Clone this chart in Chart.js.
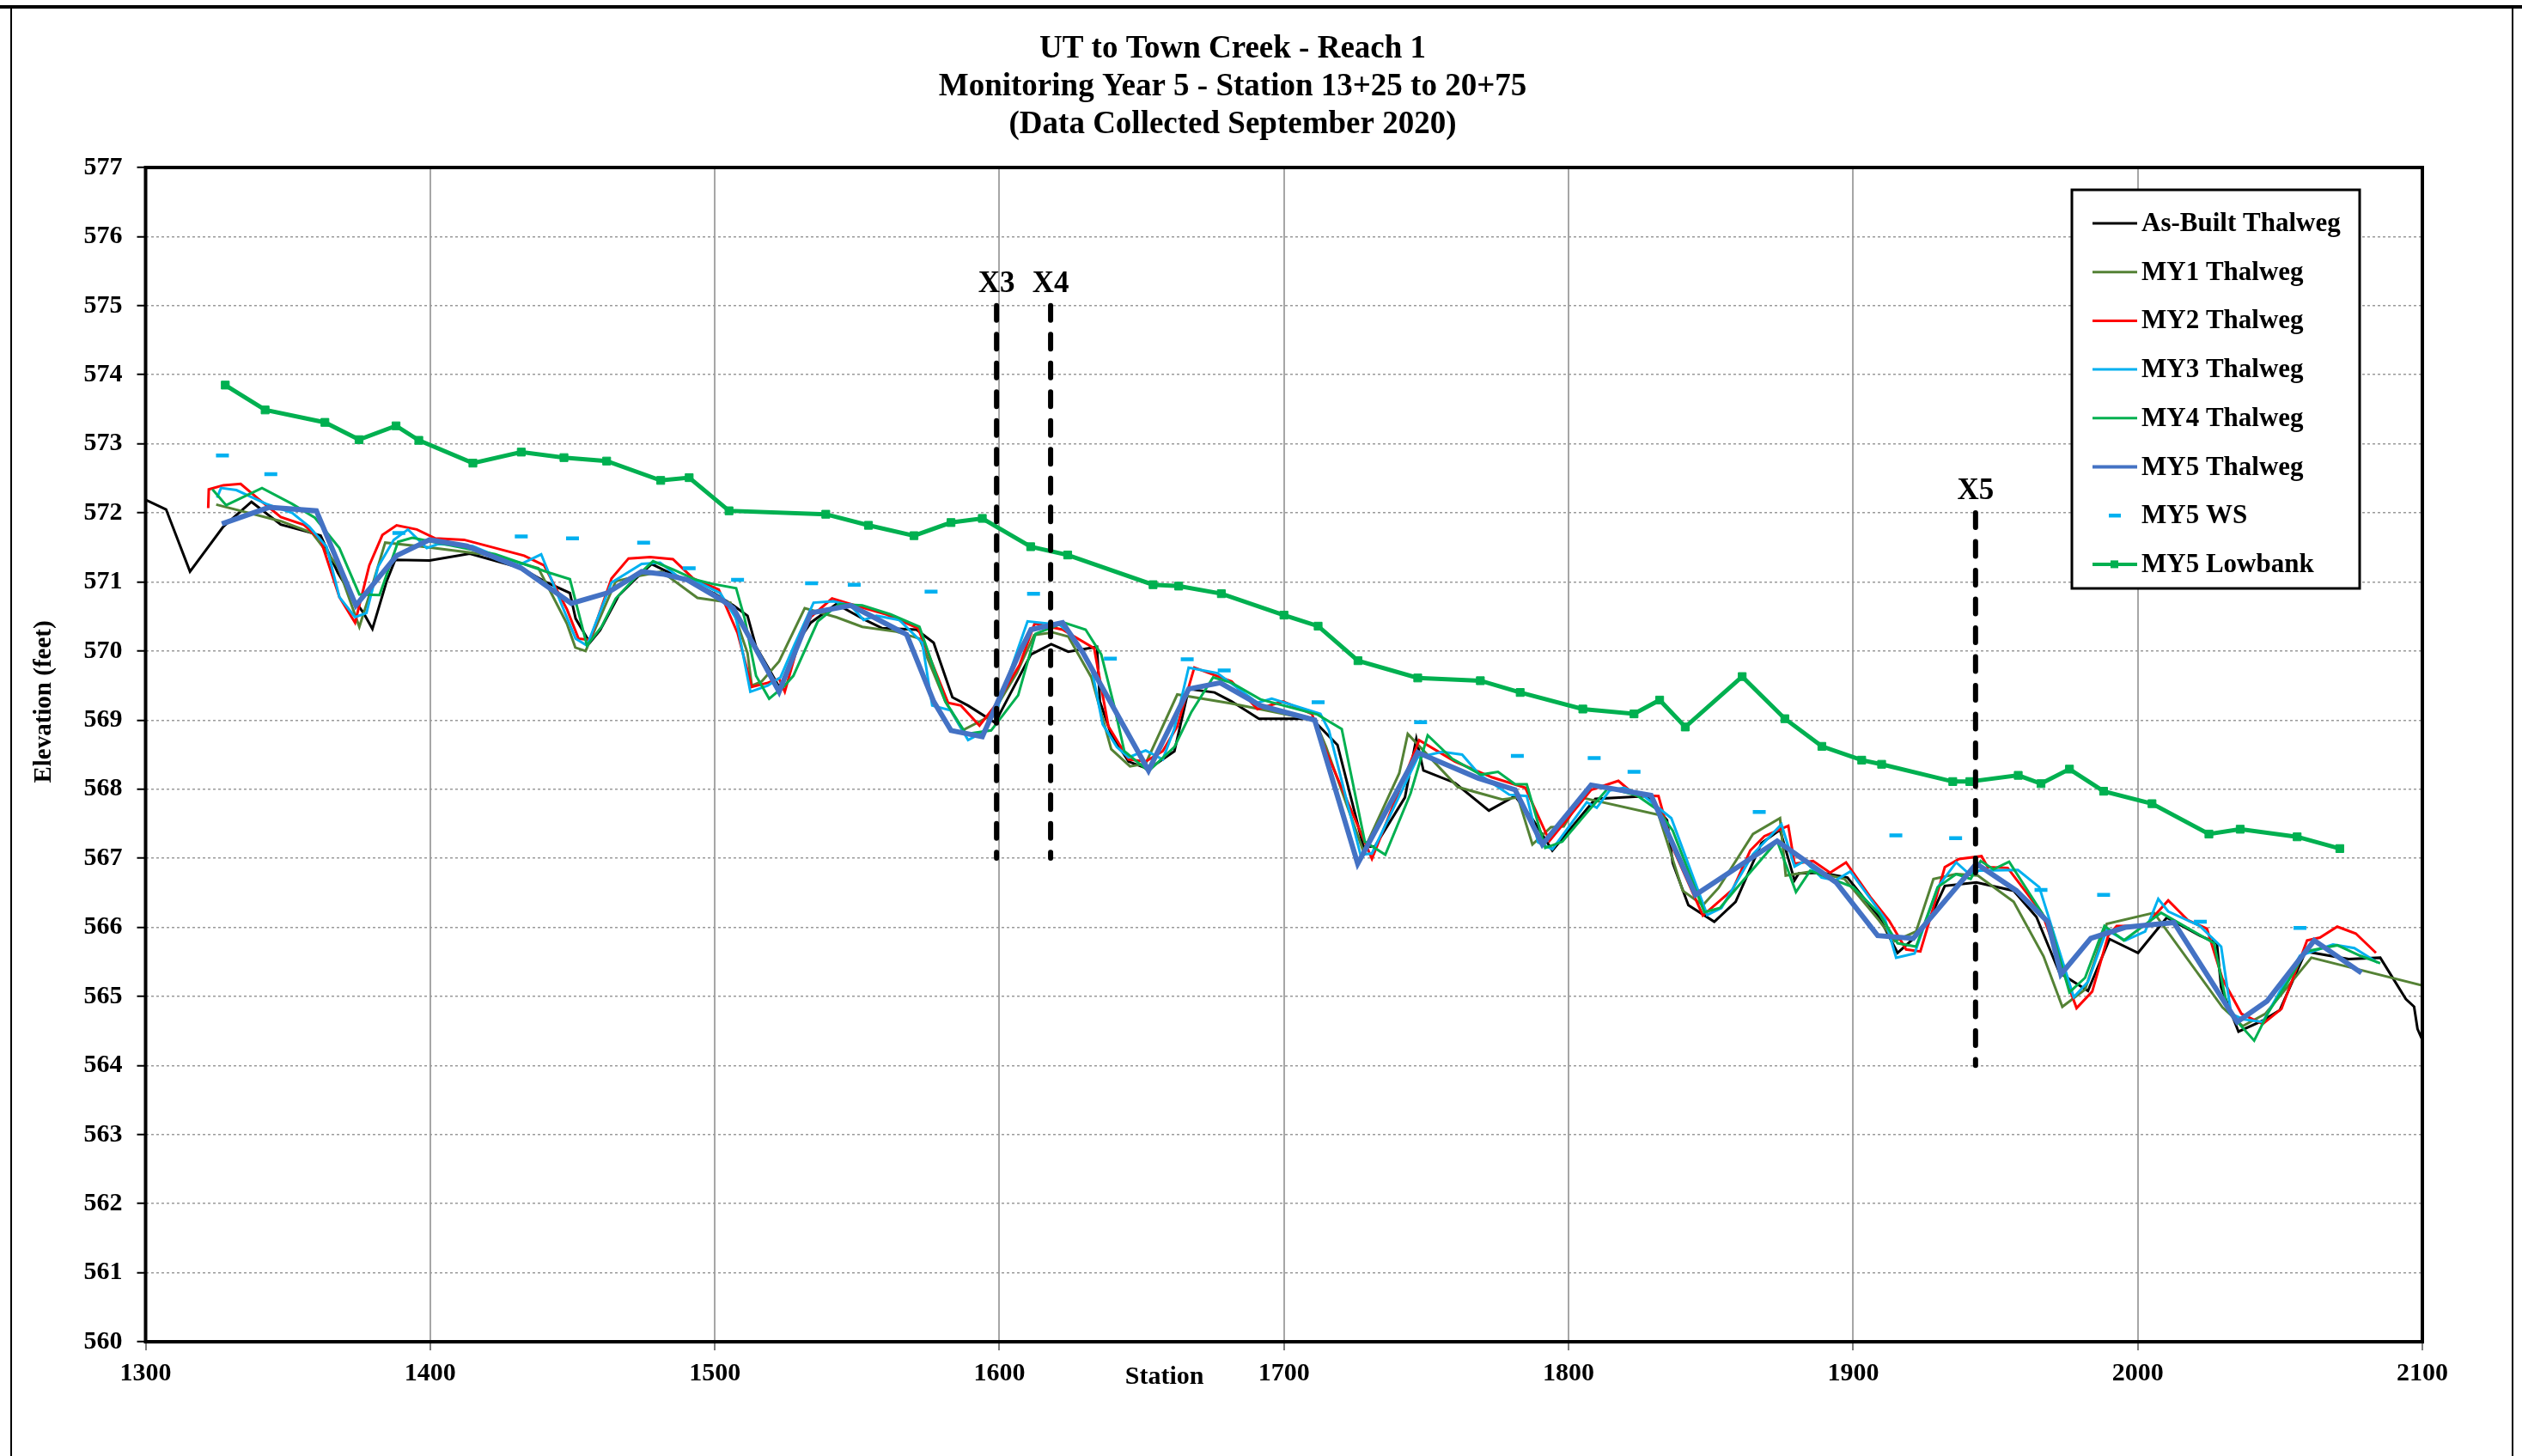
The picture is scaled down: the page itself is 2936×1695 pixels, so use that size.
<!DOCTYPE html>
<html>
<head>
<meta charset="utf-8">
<script src="https://cdn.jsdelivr.net/npm/chart.js@4.4.1/dist/chart.umd.min.js"></script>
<style>
  html, body { margin: 0; padding: 0; background: #fff; }
  canvas { display: block; }
</style>
</head>
<body>
<canvas class="grafico" width="2936" height="1695"></canvas>
<script>
// titulos
const titleLines = ['UT to Town Creek - Reach 1', 'Monitoring Year 5 - Station 13+25 to 20+75', '(Data Collected September 2020)']
const xTickLabels = [1300, 1400, 1500, 1600, 1700, 1800, 1900, 2000, 2100]
const yTickLabels = [560, 561, 562, 563, 564, 565, 566, 567, 568, 569, 570, 571, 572, 573, 574, 575, 576, 577]

// As-Built Thalweg
const asBuiltSta = [1300, 1307.2, 1315.6, 1327.3, 1337.2, 1347.5, 1357.5, 1361.5, 1367.6, 1373.6, 1376.6, 1379.7, 1384.7, 1387.7, 1399.8, 1413.9, 1432, 1440, 1449.1, 1451.1, 1456.1, 1459.7, 1466.2, 1472.3, 1477.8, 1484.3, 1492.4, 1500.4, 1506.5, 1511.5, 1514.5, 1518.6, 1522.6, 1525.6, 1530.6, 1533.7, 1542.7, 1552.8, 1558.8, 1570.9, 1576.9, 1583.5, 1589, 1598.6, 1600.1, 1611.1, 1618.2, 1624.2, 1634.3, 1635.3, 1639.3, 1645.4, 1652.4, 1661.5, 1666.5, 1675.6, 1681.6, 1691.2, 1709.8, 1718.8, 1727.9, 1731.9, 1742.5, 1746.5, 1749, 1760.1, 1772, 1781.2, 1787.3, 1794.3, 1809.4, 1827.5, 1834.6, 1836.6, 1842.1, 1851.2, 1858.7, 1867.8, 1874.3, 1879.4, 1880.9, 1888.9, 1898, 1909.1, 1915.6, 1922.1, 1927.2, 1932.2, 1943.3, 1956.4, 1964.4, 1972.5, 1982.5, 1990.1, 2000.1, 2010.2, 2021.8, 2027.8, 2029.3, 2035.4, 2043.9, 2049.9, 2059, 2074.1, 2085.2, 2094.2, 2097.1, 2098.3, 2100]
const asBuiltElev = [572.19, 572.05, 571.15, 571.8, 572.16, 571.83, 571.72, 571.67, 571.13, 570.72, 570.55, 570.32, 571.01, 571.32, 571.31, 571.41, 571.2, 571.01, 570.84, 570.47, 570.12, 570.3, 570.8, 571.05, 571.26, 571.13, 570.99, 570.82, 570.66, 570.51, 570.06, 569.77, 569.48, 569.68, 570.22, 570.41, 570.68, 570.45, 570.33, 570.31, 570.12, 569.33, 569.21, 568.96, 569.09, 569.95, 570.1, 569.99, 570.06, 569.27, 568.79, 568.4, 568.29, 568.55, 569.45, 569.4, 569.27, 569.02, 569.02, 568.64, 567.17, 567.17, 567.88, 568.73, 568.27, 568.09, 567.69, 567.9, 567.57, 567.11, 567.86, 567.9, 567.55, 566.93, 566.32, 566.08, 566.37, 567.22, 567.41, 566.68, 566.78, 566.79, 566.72, 566.15, 565.63, 565.87, 566.15, 566.6, 566.65, 566.53, 566.15, 565.34, 565.08, 565.83, 565.63, 566.14, 565.88, 565.77, 565.13, 564.49, 564.65, 564.8, 565.65, 565.54, 565.56, 564.96, 564.85, 564.53, 564.37]

// MY1 Thalweg
const my1Sta = [1324.8, 1347.5, 1358.5, 1367.6, 1375.1, 1378.1, 1384.2, 1397.8, 1422.9, 1438, 1448, 1451, 1454.6, 1465.2, 1471.2, 1481.3, 1493.9, 1505.5, 1511.5, 1513, 1516.5, 1522.6, 1531.6, 1542.7, 1551.8, 1563.8, 1571.9, 1581, 1587, 1595.5, 1600.1, 1606.1, 1612.2, 1618.7, 1624.2, 1632.3, 1639.3, 1645.9, 1651.4, 1662.5, 1681.6, 1710.8, 1714.8, 1727.9, 1740.5, 1743.5, 1761.1, 1776.7, 1782.2, 1787.3, 1793.8, 1798.3, 1804.4, 1831.6, 1840.1, 1847.2, 1852.7, 1864.8, 1874.3, 1876.3, 1885.9, 1897, 1909.1, 1914.6, 1922.1, 1928.2, 1936.2, 1943.8, 1956.4, 1966.9, 1973.5, 1981.5, 1989.1, 2005.7, 2029.8, 2036.9, 2044.9, 2061, 2100.8]
const my1Elev = [572.12, 571.88, 571.71, 571.22, 570.35, 570.74, 571.57, 571.51, 571.38, 571.2, 570.4, 570.05, 570, 571.01, 571.07, 571.15, 570.77, 570.7, 569.97, 569.5, 569.56, 569.85, 570.62, 570.49, 570.35, 570.28, 570.18, 569.27, 568.85, 569.03, 569.27, 569.68, 570.23, 570.27, 570.21, 569.62, 568.58, 568.33, 568.37, 569.37, 569.24, 569, 568.61, 567.1, 568.23, 568.8, 568.03, 567.85, 567.88, 567.2, 567.45, 567.46, 567.88, 567.63, 566.53, 566.32, 566.57, 567.35, 567.58, 566.75, 566.81, 566.7, 566.1, 565.8, 565.94, 566.7, 566.77, 566.75, 566.37, 565.58, 564.85, 565.1, 566.05, 566.21, 564.84, 564.57, 564.75, 565.56, 565.15]

// MY2 Thalweg
const my2Sta = [1322, 1322.2, 1327.3, 1333.4, 1339.4, 1347.5, 1355.5, 1361.5, 1368.1, 1373.6, 1378.6, 1383.2, 1388.2, 1395.3, 1401.8, 1411.9, 1433, 1440, 1448.1, 1452.1, 1456.2, 1463.7, 1469.7, 1477.3, 1485.3, 1492.4, 1501.4, 1508, 1513, 1518.6, 1522.6, 1524.6, 1529.6, 1533.7, 1541.2, 1547.7, 1560.3, 1571.4, 1582, 1586.5, 1593, 1599.1, 1607.1, 1612.4, 1622.2, 1633.3, 1638.3, 1645.4, 1651.4, 1657.4, 1662.5, 1668.5, 1681.6, 1690.7, 1699.7, 1709.8, 1714.8, 1730.9, 1747.5, 1760.1, 1773.2, 1784.8, 1793.3, 1807.9, 1817.5, 1823.5, 1831.6, 1836.6, 1847.2, 1857.7, 1863.8, 1868.8, 1877.2, 1879.4, 1885.9, 1891.9, 1897.5, 1906, 1912.6, 1918.6, 1923.6, 1927.2, 1932.2, 1937.2, 1945.1, 1947.3, 1954.3, 1966.4, 1978.5, 1984, 1989.6, 1992.6, 2002.6, 2010.7, 2017.7, 2024.3, 2029.8, 2036.4, 2043.9, 2050.5, 2059.5, 2064, 2070.1, 2076.6, 2083.7]
const my2Elev = [572.07, 572.34, 572.4, 572.42, 572.21, 571.94, 571.83, 571.61, 570.78, 570.41, 571.24, 571.68, 571.82, 571.76, 571.63, 571.61, 571.38, 571.24, 570.6, 570.18, 570.16, 571.05, 571.34, 571.36, 571.33, 571.05, 570.89, 570.26, 569.48, 569.54, 569.6, 569.41, 570.14, 570.49, 570.76, 570.68, 570.53, 570.33, 569.25, 569.21, 568.92, 569.24, 569.8, 570.4, 570.31, 570.04, 568.91, 568.43, 568.4, 568.55, 568.91, 569.76, 569.56, 569.16, 569.27, 569.09, 568.55, 566.99, 568.71, 568.4, 568.17, 568.02, 567.25, 567.99, 568.12, 567.91, 567.9, 567.15, 566.17, 566.55, 567.11, 567.32, 567.47, 566.92, 566.96, 566.79, 566.94, 566.44, 566.1, 565.68, 565.65, 566.15, 566.87, 566.99, 567.03, 566.87, 566.86, 566.2, 564.83, 565.07, 565.88, 566.02, 566.02, 566.39, 566.1, 565.98, 565.25, 564.75, 564.6, 564.82, 565.81, 565.85, 566.01, 565.91, 565.63]

// MY3 Thalweg
const my3Sta = [1325.1, 1326.5, 1331.9, 1342.4, 1351.5, 1357.5, 1363.6, 1368.1, 1373.6, 1377.6, 1381.7, 1387.2, 1392.2, 1398.8, 1402.8, 1414.9, 1431, 1439, 1446.1, 1451.1, 1455.1, 1463.7, 1474.3, 1480.8, 1487.4, 1492.4, 1501.9, 1507.5, 1512.5, 1518.6, 1523.1, 1528.1, 1534.7, 1541.7, 1547.7, 1552.3, 1556.8, 1564.8, 1572.9, 1576.4, 1583, 1589, 1594, 1599.1, 1606.6, 1609.9, 1621.2, 1625.7, 1632.3, 1636.3, 1641.3, 1645.4, 1651.4, 1657.4, 1661.5, 1666.5, 1676.6, 1690.7, 1695.7, 1712.8, 1715.8, 1726.9, 1730.9, 1747, 1755.6, 1762.6, 1768.7, 1779.2, 1785.3, 1789.3, 1794.3, 1806.4, 1809.9, 1814.4, 1819.5, 1826.5, 1836.1, 1848.7, 1853.7, 1864.8, 1874.8, 1879.4, 1882.9, 1888.9, 1893.9, 1899, 1911.1, 1915.1, 1921.6, 1929.7, 1936.2, 1940.8, 1944.3, 1957.9, 1965.4, 1977.5, 1982.5, 1986.5, 1989.1, 1995.6, 2002.6, 2007.2, 2010.7, 2021.8, 2029.3, 2032.8, 2036.9, 2043.9, 2057, 2068.6, 2076.1, 2084.2]
const my3Elev = [572.22, 572.36, 572.33, 572.13, 572, 571.8, 571.51, 570.78, 570.49, 570.55, 571.22, 571.61, 571.76, 571.49, 571.55, 571.52, 571.24, 571.4, 570.68, 570.18, 570.08, 570.99, 571.26, 571.28, 571.07, 571.03, 570.84, 570.47, 569.41, 569.5, 569.62, 570.1, 570.7, 570.72, 570.66, 570.45, 570.51, 570.45, 570.12, 569.21, 569.14, 568.71, 568.82, 569.15, 570.04, 570.43, 570.38, 570.22, 569.77, 568.94, 568.61, 568.46, 568.56, 568.43, 568.88, 569.76, 569.68, 569.25, 569.31, 569.09, 568.85, 567.05, 567.07, 568.46, 568.54, 568.5, 568.21, 567.92, 567.9, 567.23, 567.13, 567.81, 567.73, 567.98, 568.02, 567.9, 567.58, 566.18, 566.28, 567.06, 567.49, 566.88, 566.96, 566.72, 566.68, 566.81, 566.13, 565.56, 565.62, 566.58, 566.94, 566.77, 566.82, 566.83, 566.58, 564.99, 565.21, 565.67, 565.96, 565.81, 565.94, 566.41, 566.23, 566.02, 565.72, 564.75, 564.67, 564.63, 565.59, 565.75, 565.7, 565.49]

// MY4 Thalweg
const my4Sta = [1323.5, 1328.3, 1340.9, 1351.5, 1359.5, 1368.1, 1375.1, 1382.2, 1388.7, 1393.7, 1422.9, 1442.1, 1449.1, 1455.1, 1460.2, 1465.2, 1472.3, 1478.3, 1485.3, 1493.4, 1499.4, 1507.5, 1510.5, 1514.5, 1519.1, 1524.1, 1527.6, 1536.2, 1543.7, 1551.8, 1561.8, 1571.9, 1581, 1588.3, 1597.1, 1606.6, 1612.7, 1622.7, 1630.3, 1635.8, 1640.3, 1643.9, 1652.4, 1661.5, 1667.5, 1675.1, 1681.6, 1691.7, 1711.8, 1720.3, 1728.4, 1735.6, 1744.5, 1750.5, 1759.1, 1769.2, 1775.2, 1781.2, 1785.3, 1791.8, 1797.8, 1805.4, 1814, 1824, 1831.6, 1836.6, 1847.7, 1853.2, 1858.7, 1873.3, 1879.9, 1884.9, 1900, 1909.1, 1915.6, 1922.1, 1929.7, 1936.2, 1941.3, 1944.8, 1949.3, 1954.8, 1969.4, 1976, 1981.5, 1988.3, 1995.1, 2008.2, 2026.8, 2031.8, 2040.9, 2045.9, 2053, 2059, 2070.1, 2078.1, 2085.2]
const my4Elev = [572.34, 572.11, 572.36, 572.13, 571.93, 571.49, 570.82, 570.81, 571.58, 571.64, 571.4, 571.13, 571.04, 570.08, 570.35, 570.76, 571.07, 571.3, 571.18, 571.03, 570.97, 570.91, 570.47, 569.64, 569.31, 569.48, 569.64, 570.43, 570.68, 570.66, 570.53, 570.35, 569.27, 568.8, 568.85, 569.36, 570.25, 570.41, 570.31, 569.95, 569.21, 568.55, 568.26, 568.61, 569.12, 569.62, 569.54, 569.3, 569.08, 568.87, 567.24, 567.05, 567.94, 568.78, 568.44, 568.21, 568.25, 568.07, 568.07, 567.15, 567.24, 567.61, 568.02, 567.91, 567.69, 567.4, 566.22, 566.28, 566.55, 567.25, 566.51, 566.82, 566.58, 566.2, 565.77, 565.72, 566.58, 566.77, 566.7, 566.96, 566.84, 566.95, 566.01, 565.06, 565.27, 566.02, 565.81, 566.21, 565.77, 564.78, 564.36, 564.77, 565.23, 565.65, 565.74, 565.59, 565.48]

// MY5 Thalweg
const my5Sta = [1326.8, 1343.4, 1360, 1373.9, 1388.2, 1399.8, 1412.9, 1432, 1449.6, 1462.2, 1474.3, 1482.3, 1490.4, 1502.4, 1506.5, 1513.5, 1522.6, 1533.7, 1547.7, 1555.8, 1567.4, 1576.9, 1583, 1594, 1607.1, 1611.1, 1622.2, 1629.3, 1652.4, 1666.5, 1677.6, 1691.7, 1710.8, 1725.9, 1747, 1768.2, 1781.2, 1790.8, 1807.9, 1829, 1844.6, 1873.3, 1894, 1908.6, 1921.1, 1943.3, 1957.4, 1968.4, 1973, 1983.5, 1995.6, 2012.7, 2034.9, 2045.4, 2062, 2078.6]
const my5Elev = [571.84, 572.08, 572.03, 570.66, 571.38, 571.61, 571.52, 571.2, 570.69, 570.84, 571.15, 571.11, 571.03, 570.74, 570.62, 570.1, 569.41, 570.55, 570.66, 570.49, 570.24, 569.27, 568.85, 568.76, 569.98, 570.31, 570.41, 569.98, 568.27, 569.45, 569.54, 569.21, 569, 566.92, 568.53, 568.16, 567.99, 567.2, 568.06, 567.91, 566.47, 567.25, 566.65, 565.88, 565.84, 566.92, 566.53, 566.08, 565.32, 565.84, 566, 566.07, 564.63, 564.93, 565.81, 565.34]

// MY5 WS
const wsSta = [1327, 1344, 1389, 1432, 1450, 1475, 1491, 1508, 1534, 1549, 1576, 1612, 1639, 1666, 1679, 1712, 1748, 1782, 1809, 1823, 1867, 1915, 1936, 1966, 1988, 2022, 2057]
const wsElev = [572.83, 572.56, 571.71, 571.66, 571.63, 571.57, 571.2, 571.03, 570.98, 570.96, 570.86, 570.83, 569.89, 569.88, 569.72, 569.26, 568.97, 568.48, 568.45, 568.25, 567.67, 567.33, 567.29, 566.54, 566.47, 566.08, 565.99]

// MY5 Lowbank
const lowbankSta = [1328, 1342, 1363, 1375, 1388, 1396, 1415, 1432, 1447, 1462, 1481, 1491, 1505, 1539, 1554, 1570, 1583, 1594, 1611, 1624, 1654, 1663, 1678, 1700, 1712, 1726, 1747, 1769, 1783, 1805, 1823, 1832, 1841, 1861, 1876, 1889, 1903, 1910, 1935, 1941, 1958, 1966, 1976, 1988, 2005, 2025, 2036, 2056, 2071]
const lowbankElev = [573.85, 573.49, 573.31, 573.06, 573.26, 573.05, 572.72, 572.88, 572.8, 572.75, 572.47, 572.51, 572.03, 571.98, 571.82, 571.67, 571.86, 571.92, 571.51, 571.39, 570.96, 570.94, 570.83, 570.52, 570.36, 569.86, 569.61, 569.57, 569.4, 569.16, 569.09, 569.29, 568.9, 569.63, 569.02, 568.62, 568.42, 568.36, 568.11, 568.11, 568.2, 568.08, 568.29, 567.97, 567.79, 567.35, 567.42, 567.31, 567.14]

// secoes transversais
const xsNames = ['X3', 'X4', 'X5']
const xsSta = [1599, 1618, 1943]
const xsTop = [575, 575, 572]
const xsBottom = [567, 567, 564]

const serif = "'Liberation Serif', 'Times New Roman', serif"
const pontos = (xs, ys) => xs.map((x, i) => ({ x: x, y: ys[i] }))

function linha(label, sta, elev, cor, largura, ordem) {
    return {
        label: label,
        data: pontos(sta, elev),
        borderColor: cor,
        backgroundColor: cor,
        borderWidth: largura,
        pointRadius: 0,
        tension: 0,
        order: ordem
    }
}

const datasets = [
    linha('As-Built Thalweg', asBuiltSta, asBuiltElev, '#000000', 3, 8),
    linha('MY1 Thalweg', my1Sta, my1Elev, '#548235', 3, 7),
    linha('MY2 Thalweg', my2Sta, my2Elev, '#FF0000', 3, 6),
    linha('MY3 Thalweg', my3Sta, my3Elev, '#00B0F0', 3, 5),
    linha('MY4 Thalweg', my4Sta, my4Elev, '#00B050', 3, 4),
    linha('MY5 Thalweg', my5Sta, my5Elev, '#4472C4', 6, 3),
    {
        label: 'MY5 WS',
        data: pontos(wsSta, wsElev),
        showLine: false,
        pointStyle: 'line',
        pointRadius: 7.5,
        pointBorderWidth: 4.5,
        pointBorderColor: '#00B0F0',
        borderColor: '#00B0F0',
        backgroundColor: '#00B0F0',
        order: 2
    },
    {
        label: 'MY5 Lowbank',
        data: pontos(lowbankSta, lowbankElev),
        borderColor: '#00B050',
        backgroundColor: '#00B050',
        borderWidth: 5,
        pointStyle: 'rect',
        pointRadius: 6.5,
        pointBorderWidth: 1,
        pointBackgroundColor: '#00B050',
        pointBorderColor: '#00B050',
        tension: 0,
        order: 1
    }
]

xsNames.forEach((nome, i) => {
    datasets.push({
        label: nome,
        xsLabel: true,
        data: [{ x: xsSta[i], y: xsTop[i] }, { x: xsSta[i], y: xsBottom[i] }],
        borderColor: '#000000',
        borderWidth: 6,
        borderDash: [17, 16.5],
        borderCapStyle: 'round',
        pointRadius: 0,
        order: 0
    })
})

// desenhos extras: moldura, legenda, rotulos X, titulos dos eixos
const extras = {
    id: 'extras',
    beforeDraw(chart) {
        const c = chart.ctx
        c.save()
        c.fillStyle = '#ffffff'
        c.fillRect(0, 0, chart.width, chart.height)
        c.strokeStyle = '#000000'
        c.lineWidth = 4
        c.beginPath()
        c.moveTo(0, 8)
        c.lineTo(chart.width, 8)
        c.stroke()
        c.lineWidth = 2
        c.beginPath()
        c.moveTo(13, 8)
        c.lineTo(13, chart.height)
        c.moveTo(2925, 8)
        c.lineTo(2925, chart.height)
        c.stroke()
        c.restore()
    },
    afterDraw(chart) {
        const c = chart.ctx
        const a = chart.chartArea
        const xs = chart.scales.x
        const ys = chart.scales.y
        c.save()

        // moldura da area do grafico
        c.strokeStyle = '#000000'
        c.lineWidth = 4
        c.strokeRect(a.left, a.top, a.right - a.left, a.bottom - a.top)

        // rotulos das secoes
        c.fillStyle = '#000000'
        c.textAlign = 'center'
        c.textBaseline = 'middle'
        c.font = `bold 35px ${serif}`
        xsNames.forEach((nome, i) => {
            c.fillText(nome, xs.getPixelForValue(xsSta[i]), ys.getPixelForValue(xsTop[i]) - 25)
        })

        // titulo do eixo x
        c.font = `bold 30px ${serif}`
        c.fillText('Station', xs.getPixelForValue(1658), 1603)

        // titulo do eixo y
        c.save()
        c.translate(52, 817)
        c.rotate(-Math.PI / 2)
        c.font = `bold 29px ${serif}`
        c.fillText('Elevation (feet)', 0, 0)
        c.restore()

        // legenda
        const bx = 2412, by = 221, bw = 335, bh = 464
        c.fillStyle = '#ffffff'
        c.fillRect(bx, by, bw, bh)
        c.strokeStyle = '#000000'
        c.lineWidth = 3
        c.strokeRect(bx, by, bw, bh)
        c.font = `bold 31px ${serif}`
        c.textAlign = 'left'
        chart.data.datasets.filter(d => !d.xsLabel).forEach((d, i) => {
            const y = 260 + i * 56.7
            const cor = d.borderColor
            c.strokeStyle = cor
            c.fillStyle = cor
            if (d.showLine === false) {
                c.lineWidth = 4.5
                c.beginPath()
                c.moveTo(2455, y)
                c.lineTo(2469, y)
                c.stroke()
            } else {
                c.lineWidth = Math.min(d.borderWidth, 4)
                c.beginPath()
                c.moveTo(2436, y)
                c.lineTo(2488, y)
                c.stroke()
                if (d.pointStyle === 'rect') c.fillRect(2457, y - 4.5, 9, 9)
            }
            c.fillStyle = '#000000'
            c.fillText(d.label, 2493, y + 1)
        })
        c.restore()
    }
}

const container = document.querySelector('.grafico')
const context = container.getContext('2d')

const grafico = new Chart(context, {
    type: 'line',
    data: { datasets: datasets },
    plugins: [extras],
    options: {
        responsive: false,
        animation: false,
        devicePixelRatio: 1,
        events: [],
        layout: { padding: { left: 50, right: 116, top: 0, bottom: 0 } },
        plugins: {
            legend: { display: false },
            tooltip: { enabled: false },
            title: {
                display: true,
                text: titleLines,
                color: '#000000',
                font: { family: serif, size: 37, weight: 'bold', lineHeight: 44 / 37 },
                padding: { top: 35, bottom: 28 }
            }
        },
        scales: {
            x: {
                type: 'linear',
                min: xTickLabels[0],
                max: xTickLabels[xTickLabels.length - 1],
                afterFit: (s) => { s.height = 133 },
                afterBuildTicks: (s) => { s.ticks = xTickLabels.map(v => ({ value: v })) },
                ticks: {
                    color: '#000000',
                    font: { family: serif, size: 30, weight: 'bold' },
                    maxRotation: 0,
                    padding: 9,
                    callback: (v) => String(v)
                },
                grid: { color: '#A6A6A6', lineWidth: 2, tickLength: 10, tickColor: '#7f7f7f' },
                border: { display: false }
            },
            y: {
                type: 'linear',
                min: yTickLabels[0],
                max: yTickLabels[yTickLabels.length - 1],
                afterFit: (s) => { s.width = 119.5 },
                afterBuildTicks: (s) => { s.ticks = yTickLabels.map(v => ({ value: v })) },
                ticks: {
                    color: '#000000',
                    font: { family: serif, size: 30, weight: 'bold' },
                    padding: 17,
                    callback: (v) => String(v)
                },
                grid: { color: '#9a9a9a', lineWidth: 1.5, tickLength: 10, tickColor: '#000000', tickWidth: 2 },
                border: { display: false, dash: [3, 3] }
            }
        }
    }
})
</script>
</body>
</html>
